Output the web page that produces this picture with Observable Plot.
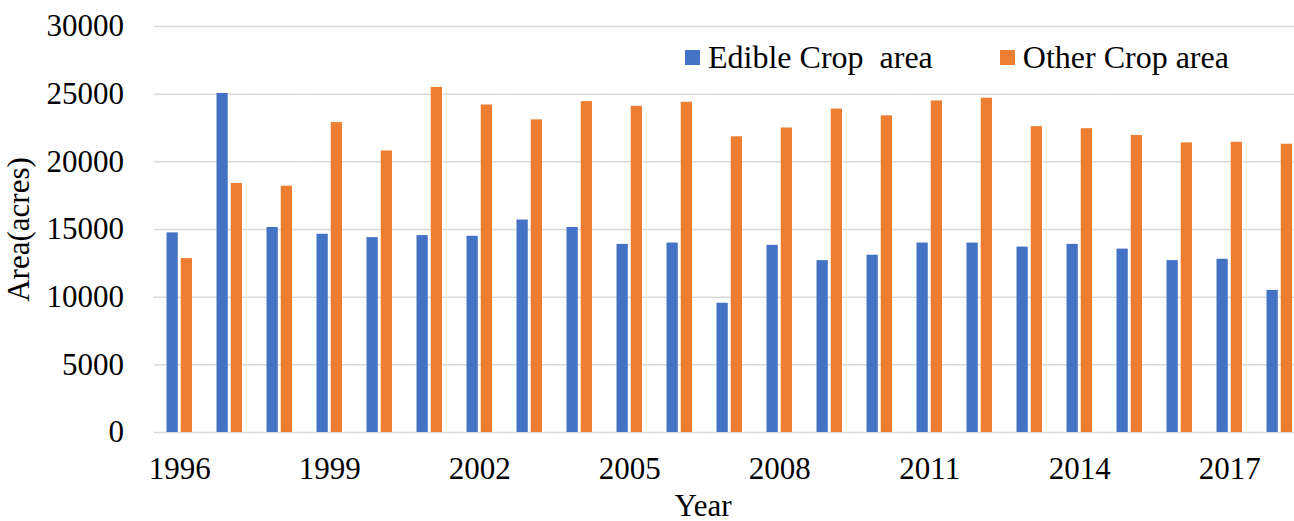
<!DOCTYPE html>
<html>
<head>
<meta charset="utf-8">
<script src="https://cdn.jsdelivr.net/npm/d3@7"></script>
<script src="https://cdn.jsdelivr.net/npm/@observablehq/plot@0.6"></script>
<style>
  html, body { margin: 0; padding: 0; background: #fff; }
  #wrap { position: relative; width: 1294px; height: 521px; font-family: "Liberation Serif", "Times New Roman", serif; color: #000; }
  #legend { position: absolute; top: 40px; left: 685px; display: flex; align-items: center; font-size: 32px; white-space: pre; line-height: 35px; }
  .sw { display: inline-block; width: 15px; height: 15px; margin-right: 8px; }
  .item { display: flex; align-items: center; }
  #xlabel { position: absolute; left: 703px; top: 492px; transform: translateX(-50%); font-size: 31px; line-height: 28px; }
</style>
</head>
<body>
<div id="wrap"></div>
<script>
const years = [1996,1997,1998,1999,2000,2001,2002,2003,2004,2005,2006,2007,2008,2009,2010,2011,2012,2013,2014,2015,2016,2017,2018];
const edible = [14750,25050,15150,14650,14400,14550,14500,15700,15150,13900,14000,9550,13830,12700,13100,14000,14000,13700,13900,13550,12700,12800,10500];
const other  = [12850,18400,18200,22900,20800,25500,24200,23100,24450,24100,24400,21850,22500,23900,23400,24500,24700,22600,22450,21950,21400,21450,21300];
const series = ["Edible Crop  area", "Other Crop area"];
const colors = ["#4472C4", "#ED7D31"];
const yTicks = [0, 5000, 10000, 15000, 20000, 25000, 30000];
const xTickYears = [1996, 1999, 2002, 2005, 2008, 2011, 2014, 2017];
const yTitle = "Area(acres)";
const xTitle = "Year";

const data = years.flatMap((yr, i) => [
  {year: yr, series: series[0], value: edible[i]},
  {year: yr, series: series[1], value: other[i]}
]);

const W = 1294, H = 521, ML = 155, MR = 2, MT = 26, MB = 89;
const fxPadIn = 0.49, fxPadOut = 0.115;
const step = (W - ML - MR) / (years.length - fxPadIn + 2 * fxPadOut);
const gapHalf = step * fxPadIn / 2;

const chart = Plot.plot({
  width: W,
  height: H,
  marginLeft: ML,
  marginRight: MR,
  marginTop: MT,
  marginBottom: MB,
  style: {fontFamily: "Liberation Serif", fontSize: "31px", color: "#000", background: "#fff", overflow: "visible"},
  fx: {domain: years, paddingInner: fxPadIn, paddingOuter: fxPadOut, align: 1, round: false},
  x: {domain: series, paddingInner: 0.21, paddingOuter: 0, round: false, axis: null},
  y: {domain: [0, 30000]},
  color: {domain: series, range: colors},
  marks: [
    Plot.ruleY(yTicks, {stroke: "#d9d9d9", strokeWidth: 1.5, insetLeft: -gapHalf - 0.5, insetRight: -gapHalf - 0.5}),
    Plot.barY(data, {fx: "year", x: "series", y: "value", fill: "series"}),
    Plot.axisY({ticks: yTicks, tickSize: 0, tickPadding: 43, tickFormat: d => String(d), label: yTitle, labelArrow: "none", labelAnchor: "center", labelOffset: 160, fontSize: 31}),
    Plot.axisFx({anchor: "bottom", ticks: xTickYears, tickSize: 0, tickPadding: 24, tickFormat: d => String(d), label: null, fontSize: 31})
  ]
});

const wrap = document.getElementById("wrap");
wrap.appendChild(chart);

const xl = document.createElement("div");
xl.id = "xlabel";
xl.textContent = xTitle;
wrap.appendChild(xl);

const legend = document.createElement("div");
legend.id = "legend";
series.forEach((s, i) => {
  const item = document.createElement("div");
  item.className = "item";
  if (i > 0) item.style.marginLeft = "67px";
  const sw = document.createElement("span");
  sw.className = "sw";
  sw.style.background = colors[i];
  const t = document.createElement("span");
  t.textContent = s;
  item.appendChild(sw);
  item.appendChild(t);
  legend.appendChild(item);
});
wrap.appendChild(legend);
</script>
</body>
</html>
